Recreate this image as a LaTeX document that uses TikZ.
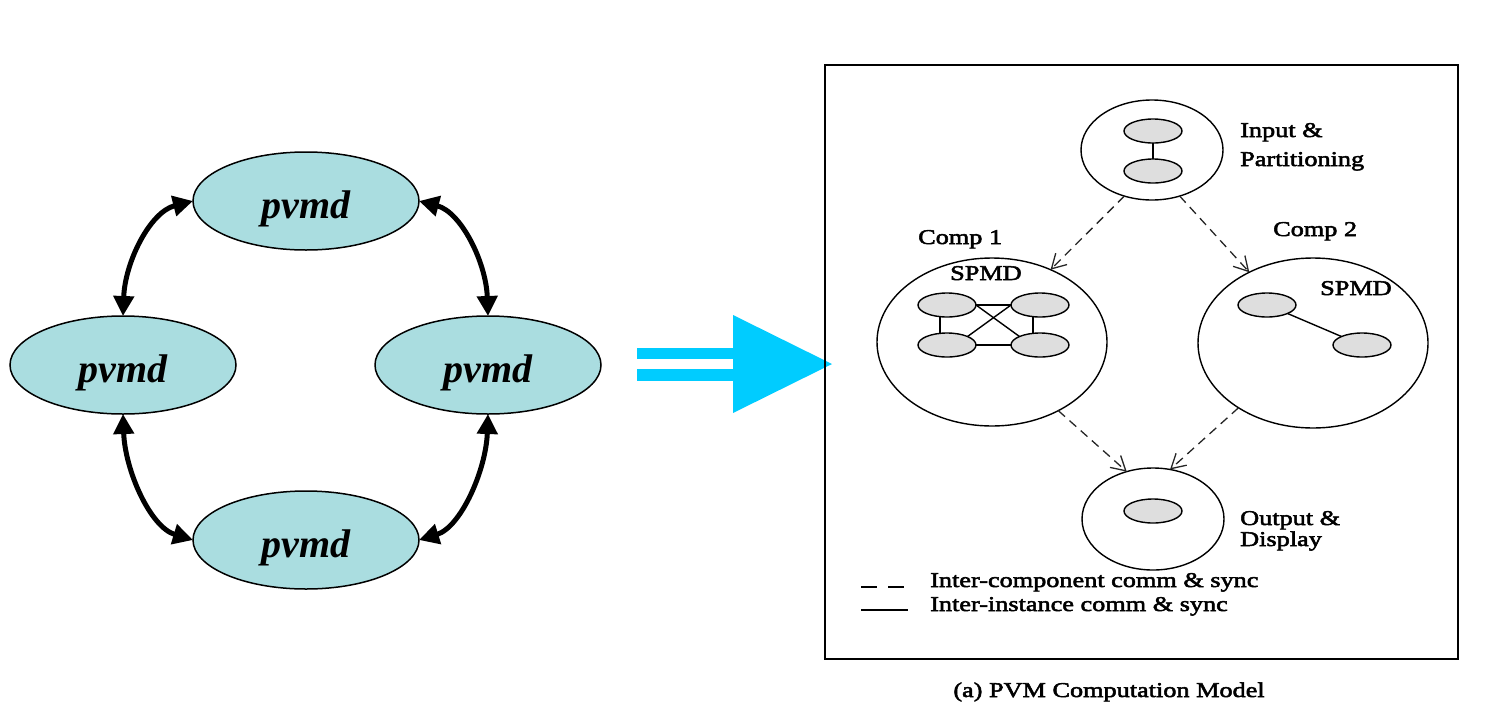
\documentclass[tikz,border=0pt]{standalone}
\usepackage{fontspec}
\setmainfont{Liberation Serif}
\newfontfamily\boxfont[FakeStretch=1.25,FakeBold=2.5]{Liberation Serif}
\usetikzlibrary{shapes.geometric,arrows.meta}
\definecolor{tealfill}{RGB}{170,221,224}
\definecolor{cyanarrow}{RGB}{0,204,255}
\definecolor{procgray}{RGB}{222,222,222}
\newcommand\pvtext{\raisebox{-17pt}[0pt][0pt]{pvmd}}
\begin{document}
\begin{tikzpicture}[x=1pt,y=-1pt,
  pvmdnode/.style={ellipse,draw=black,line width=1.5pt,fill=tealfill,
    minimum width=226pt,minimum height=98pt,inner sep=0pt,outer sep=0pt,
    font=\fontsize{40}{48}\selectfont\bfseries\itshape},
  bigarrow/.style={line width=5pt,
    {Triangle[length=20pt,width=20pt]}-{Triangle[length=20pt,width=20pt]}},
  groupnode/.style={ellipse,draw=black,line width=1.4pt,inner sep=0pt,outer sep=0pt},
  procnode/.style={ellipse,draw=black,line width=1.4pt,fill=procgray,
    minimum width=58pt,minimum height=24pt,inner sep=0pt,outer sep=0pt},
  lbl/.style={font=\boxfont\fontsize{21}{24}\selectfont,inner sep=0pt,anchor=base west},
  dasharrow/.style={line width=1.3pt,black!85,dash pattern=on 9pt off 6pt,
    -{Straight Barb[length=14pt,width=16pt]}},
  instline/.style={line width=1.4pt,black},
]
\useasboundingbox (0,0) rectangle (1506,718);

% ---------- left: pvmd ring ----------
\node[pvmdnode] (T) at (306,201) {\pvtext};
\node[pvmdnode] (L) at (123,365) {\pvtext};
\node[pvmdnode] (R) at (488,365) {\pvtext};
\node[pvmdnode] (B) at (306,540) {\pvtext};

\draw[bigarrow] (L.north) .. controls (125,262) and (150,212) .. (T.west);
\draw[bigarrow] (R.north) .. controls (486,262) and (461,212) .. (T.east);
\draw[bigarrow] (L.south) .. controls (125,470) and (150,527) .. (B.west);
\draw[bigarrow] (R.south) .. controls (486,470) and (461,527) .. (B.east);

% ---------- big cyan arrow ----------
\fill[cyanarrow] (637,348) rectangle (735,359);
\fill[cyanarrow] (637,369) rectangle (735,381);
\fill[cyanarrow] (733,315) -- (832,364) -- (733,413) -- cycle;

% ---------- right: PVM computation model ----------
\draw[line width=2pt] (825,65) rectangle (1458,659);

\node[groupnode,minimum width=142pt,minimum height=100pt] (inp) at (1152,150) {};
\node[procnode] (i1) at (1153,131) {};
\node[procnode] (i2) at (1153,171) {};
\draw[instline] (i1.south) -- (i2.north);
\node[lbl] (inlbl1) at (1240,137) {Input \&};
\node[lbl] (inlbl2) at (1240,166) {Partitioning};

\node[groupnode,minimum width=230pt,minimum height=168pt] (c1) at (992,342) {};
\node[lbl] (c1lbl) at (918,244) {Comp 1};
\node[lbl] (c1spmd) at (950,280) {SPMD};
\node[procnode] (a1) at (947,305) {};
\node[procnode] (a2) at (1040,305) {};
\node[procnode] (a3) at (947,345) {};
\node[procnode] (a4) at (1040,345) {};
\draw[instline] (a1.east) -- (a2.west);
\draw[instline] (a3.east) -- (a4.west);
\draw[instline] ([xshift=-7pt]a1.south) -- ([xshift=-7pt]a3.north);
\draw[instline] ([xshift=-7pt]a2.south) -- ([xshift=-7pt]a4.north);
\draw[instline] (a1.east) -- (a4.north west);
\draw[instline] (a3.north east) -- (a2.west);

\node[groupnode,minimum width=230pt,minimum height=170pt] (c2) at (1313,343) {};
\node[lbl] (c2lbl) at (1273,236) {Comp 2};
\node[lbl] (c2spmd) at (1320,295) {SPMD};
\node[procnode] (b1) at (1267,305) {};
\node[procnode] (b2) at (1362,345) {};
\draw[instline] (b1.south east) -- (b2.north west);

\node[groupnode,minimum width=142pt,minimum height=102pt] (out) at (1153,519) {};
\node[procnode] (o1) at (1153,511) {};
\node[lbl] (outlbl1) at (1240,525) {Output \&};
\node[lbl] (outlbl2) at (1240,546) {Display};

\draw[dasharrow] (inp.239) -- (c1.51);
\draw[dasharrow] (inp.301) -- (c2.132);
\draw[dasharrow] (c1.314) -- (out.119);
\draw[dasharrow] (c2.221) -- (out.71);

% legend
\coordinate (lg1a) at (861,587);
\coordinate (lg1b) at (904,587);
\coordinate (lg2a) at (861,610);
\coordinate (lg2b) at (908,610);
\draw[line width=1.4pt,dash pattern=on 16pt off 11pt] (lg1a) -- (lg1b);
\draw[line width=1.4pt] (lg2a) -- (lg2b);
\node[lbl] (lgt1) at (930,587) {Inter-component comm \& sync};
\node[lbl] (lgt2) at (930,611) {Inter-instance comm \& sync};

\node[lbl,anchor=base] (caption) at (1109,697) {(a) PVM Computation Model};
\end{tikzpicture}
\end{document}
